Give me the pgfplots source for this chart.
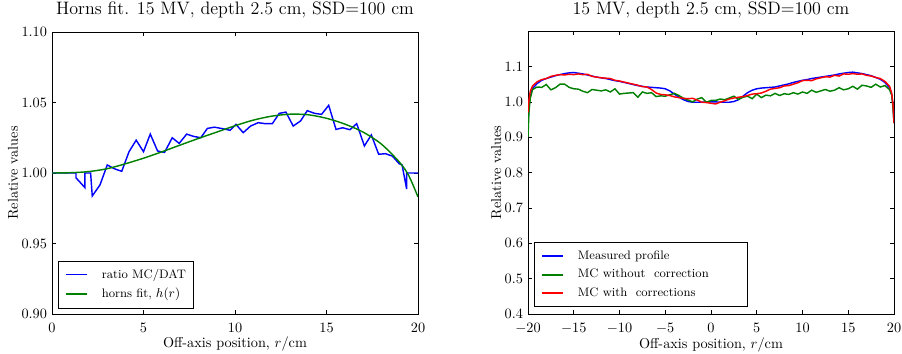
\documentclass[border=0pt]{standalone}
\usepackage{pgfplots}
\pgfplotsset{compat=1.18}
\definecolor{mplblue}{rgb}{0,0,1}
\definecolor{mplgreen}{rgb}{0,0.5,0}
\definecolor{mplred}{rgb}{1,0,0}
\newcommand{\legline}[1]{\path[draw=none] (-1.5pt,0pt) -- (23.5pt,0pt); \draw[#1, draw=#1, solid, line width=1.3pt] (0pt,0pt) -- (14.5pt,0pt);}
\begin{document}
\begin{tikzpicture}
\path[use as bounding box] (0,0) rectangle (631.4pt,247.1pt);
\pgfplotsset{
  myaxis/.style={
    scale only axis, width=256.2pt, anchor=south west,
    tick align=inside, major tick length=3pt,
    axis line style={line width=0.6pt},
    every tick/.style={black, line width=0.5pt},
    tick label style={font=\fontsize{10}{12}\selectfont},
    xticklabel style={yshift=-3pt},
    label style={font=\fontsize{10}{12}\selectfont},
    xlabel style={yshift=4pt},
    ylabel shift=-4.5pt,
    title style={font=\fontsize{12.6}{15}\selectfont},
    legend cell align=left,
    legend style={draw=black, fill=white,
      font=\fontsize{8.6}{10}\selectfont,
      nodes={inner sep=1.5pt}, row sep=2.6pt, inner xsep=4pt, inner ysep=4pt},
  }
}
% ---------------- left ----------------
\begin{axis}[myaxis, at={(36.4pt,27.3pt)}, height=197.4pt,
  xmin=0, xmax=20, ymin=0.9, ymax=1.1,
  xtick={0,5,10,15,20},
  ytick={0.90,0.95,1.00,1.05,1.10},
  yticklabel style={/pgf/number format/.cd, fixed, fixed zerofill, precision=2},
  title={Horns fit. 15 MV, depth 2.5 cm, SSD=100 cm},
  xlabel={Off-axis position, $r/\mathrm{cm}$},
  ylabel={Relative values},
  legend style={at={(0.0164,0.021)}, anchor=south west},
]
\addplot[mplblue, line width=1pt, legend image code/.code={\legline{mplblue}}] coordinates {
(0,1.0) (1.31,1.0) (1.31,0.9966) (1.80,0.9896) (1.80,1.0) (2.11,1.0)
(2.2,0.9837) (2.62,0.9915) (3.02,1.0057) (3.41,1.003) (3.81,1.0012)
(4.21,1.0151) (4.6,1.0233) (5.0,1.0151) (5.37,1.0276) (5.77,1.0156)
(6.15,1.0146) (6.57,1.025) (6.95,1.021) (7.36,1.0276) (7.73,1.026)
(8.13,1.025) (8.49,1.0316) (8.87,1.0325) (9.3,1.0315) (9.73,1.0303)
(10.05,1.0345) (10.45,1.0286) (10.85,1.0333) (11.27,1.0357) (11.64,1.035)
(12.04,1.035) (12.42,1.0423) (12.78,1.0432) (13.18,1.0333) (13.58,1.0369)
(13.95,1.0442) (14.35,1.0423) (14.73,1.0416) (15.12,1.048) (15.52,1.0309)
(15.88,1.0321) (16.28,1.0307) (16.65,1.035) (17.07,1.0192) (17.45,1.027)
(17.85,1.0133) (18.22,1.0137) (18.6,1.012) (18.97,1.0066) (19.13,1.0057)
(19.38,0.9886) (19.38,1.0) (20,1.0)
};
\addlegendentry{ratio MC/DAT}
\addplot[mplgreen, line width=1pt, smooth, legend image code/.code={\legline{mplgreen}}] coordinates {
(0,1.0000) (1,1.0002) (2,1.0010) (3,1.0030) (4,1.0065) (5,1.0105)
(6,1.0150) (7,1.0198) (8,1.0245) (9,1.0290) (10,1.0335) (11,1.0375)
(12,1.0403) (13,1.0417) (14,1.0413) (15,1.0388) (16,1.0347) (17,1.0290)
(18,1.0205) (19,1.0075) (19.5,0.9980) (20,0.9830)
};
\addlegendentry{horns fit, $h(r)$}
\end{axis}
% ---------------- right ----------------
\begin{axis}[myaxis, at={(369.6pt,27.3pt)}, height=198pt,
  xmin=-20, xmax=20, ymin=0.4, ymax=1.2,
  xtick={-20,-15,-10,-5,0,5,10,15,20},
  ytick={0.4,0.5,0.6,0.7,0.8,0.9,1.0,1.1},
  yticklabel style={/pgf/number format/.cd, fixed, fixed zerofill, precision=1},
  title={15 MV, depth 2.5 cm, SSD=100 cm},
  xlabel={Off-axis position, $r/\mathrm{cm}$},
  ylabel={Relative values},
  legend style={at={(0.0164,0.025)}, anchor=south west},
]
\addplot[mplblue, line width=1pt, legend image code/.code={\legline{mplblue}}] coordinates {
(-20,0.93) (-19.9,0.99) (-19.75,1.02) (-19.5,1.038) (-19,1.052) (-18.5,1.061)
(-18,1.066) (-17.5,1.070) (-17,1.074) (-16.5,1.077) (-16,1.080) (-15.5,1.082)
(-15,1.083) (-14.5,1.081) (-14,1.079) (-13.5,1.076) (-13,1.073) (-12.5,1.070)
(-12,1.068) (-11.5,1.066) (-11,1.063) (-10.5,1.060) (-10,1.058) (-9.5,1.055)
(-9,1.052) (-8.5,1.049) (-8,1.046) (-7.5,1.044) (-7,1.042) (-6.5,1.041)
(-6,1.040) (-5.5,1.039) (-5,1.037) (-4.5,1.031) (-4,1.022) (-3.5,1.013)
(-3,1.006) (-2.5,1.001) (-2,0.999) (-1.5,0.999) (-1,0.999) (-0.5,1.0)
(0,1.0) (0.5,1.0) (1,0.999) (1.5,0.999) (2,0.999) (2.5,1.001)
(3,1.006) (3.5,1.016) (4,1.026) (4.5,1.033) (5,1.037) (5.5,1.039)
(6,1.040) (6.5,1.041) (7,1.042) (7.5,1.045) (8,1.048) (8.5,1.051)
(9,1.055) (9.5,1.058) (10,1.061) (10.5,1.063) (11,1.066) (11.5,1.068)
(12,1.070) (12.5,1.072) (13,1.074) (13.5,1.076) (14,1.079) (14.5,1.081)
(15,1.083) (15.5,1.084) (16,1.082) (16.5,1.080) (17,1.077) (17.5,1.074)
(18,1.069) (18.5,1.064) (19,1.055) (19.5,1.040) (19.75,1.02) (19.9,0.99)
(20,0.94)
};
\addlegendentry{\makebox[113pt][l]{Measured profile}}
\addplot[mplgreen, line width=1pt, legend image code/.code={\legline{mplgreen}}] coordinates {
(-20,0.90) (-19.9,0.97) (-19.75,1.01) (-19.5,1.035) (-19,1.042) (-18.5,1.041)
(-18,1.049) (-17.5,1.034) (-17,1.040) (-16.5,1.050) (-16,1.050) (-15.5,1.041)
(-15,1.037) (-14.5,1.036) (-14,1.030) (-13.5,1.026) (-13,1.035) (-12.5,1.033)
(-12,1.031) (-11.5,1.034) (-11,1.028) (-10.5,1.037) (-10,1.022) (-9.5,1.024)
(-9,1.025) (-8.5,1.026) (-8,1.013) (-7.5,1.028) (-7,1.024) (-6.5,1.026)
(-6,1.015) (-5.5,1.017) (-5,1.016) (-4.5,1.020) (-4,1.024) (-3.5,1.018)
(-3,1.010) (-2.5,1.005) (-2,1.000) (-1.5,1.008) (-1,1.012) (-0.5,0.999)
(0,1.004) (0.5,1.004) (1,1.008) (1.5,1.006) (2,1.011) (2.5,1.016)
(3,1.007) (3.5,1.013) (4,1.016) (4.5,1.009) (5,1.022) (5.5,1.012)
(6,1.019) (6.5,1.017) (7,1.024) (7.5,1.018) (8,1.023) (8.5,1.021)
(9,1.026) (9.5,1.022) (10,1.028) (10.5,1.024) (11,1.033) (11.5,1.027)
(12,1.031) (12.5,1.035) (13,1.030) (13.5,1.033) (14,1.040) (14.5,1.034)
(15,1.037) (15.5,1.044) (16,1.036) (16.5,1.047) (17,1.045) (17.5,1.041)
(18,1.050) (18.5,1.042) (19,1.046) (19.5,1.035) (19.75,1.02) (19.9,0.98)
(20,0.94)
};
\addlegendentry{MC without\ \ correction}
\addplot[mplred, line width=1pt, legend image code/.code={\legline{mplred}}] coordinates {
(-20,0.97) (-19.9,1.005) (-19.75,1.03) (-19.5,1.045) (-19,1.057) (-18.5,1.063)
(-18,1.066) (-17.5,1.072) (-17,1.075) (-16.5,1.077) (-16,1.076) (-15.5,1.078)
(-15,1.077) (-14.5,1.079) (-14,1.077) (-13.5,1.078) (-13,1.072) (-12.5,1.070)
(-12,1.068) (-11.5,1.067) (-11,1.066) (-10.5,1.061) (-10,1.059) (-9.5,1.056)
(-9,1.053) (-8.5,1.050) (-8,1.047) (-7.5,1.043) (-7,1.042) (-6.5,1.035)
(-6,1.025) (-5.5,1.021) (-5,1.020) (-4.5,1.018) (-4,1.014) (-3.5,1.012)
(-3,1.010) (-2.5,1.009) (-2,1.010) (-1.5,1.005) (-1,0.999) (-0.5,0.998)
(0,0.996) (0.5,0.994) (1,0.999) (1.5,1.003) (2,1.008) (2.5,1.011)
(3,1.013) (3.5,1.015) (4,1.018) (4.5,1.022) (5,1.023) (5.5,1.025)
(6,1.030) (6.5,1.036) (7,1.038) (7.5,1.040) (8,1.045) (8.5,1.046)
(9,1.050) (9.5,1.054) (10,1.060) (10.5,1.061) (11,1.060) (11.5,1.065)
(12,1.068) (12.5,1.071) (13,1.070) (13.5,1.075) (14,1.073) (14.5,1.079)
(15,1.078) (15.5,1.080) (16,1.078) (16.5,1.079) (17,1.075) (17.5,1.073)
(18,1.069) (18.5,1.066) (19,1.058) (19.5,1.045) (19.75,1.025) (19.9,0.99)
(20,0.94)
};
\addlegendentry{MC with\ \ corrections}
\end{axis}
\end{tikzpicture}
\end{document}
